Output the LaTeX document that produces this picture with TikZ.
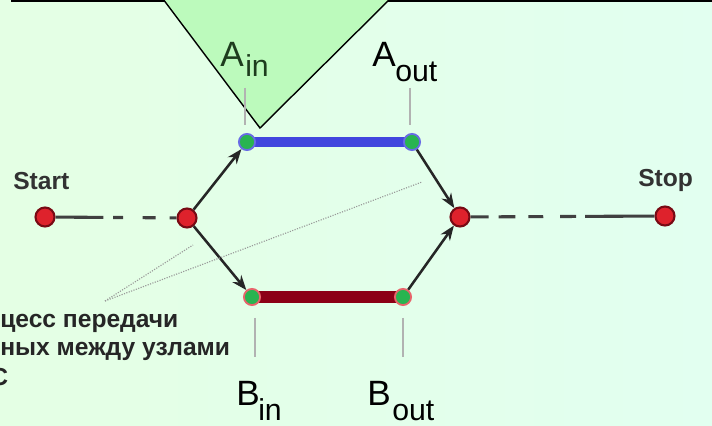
\documentclass[tikz,border=0pt]{standalone}
\usepackage{fontspec}
\setmainfont{Liberation Sans}
\usetikzlibrary{arrows.meta}
\definecolor{BgLeft}   {RGB}{228,255,228}
\definecolor{BgRight}  {RGB}{226,255,240}
\definecolor{Bubble}   {RGB}{188,250,188}
\definecolor{DotRed}   {RGB}{222,34,44}
\definecolor{DotEdge}  {RGB}{120,10,20}
\definecolor{PortGreen}{RGB}{40,180,80}
\definecolor{LineBlue} {RGB}{66,70,222}
\definecolor{LineRed}  {RGB}{140,0,22}
\definecolor{TextGrey} {RGB}{50,50,50}
\definecolor{TextDkGrn}{RGB}{30,60,30}

\begin{document}
\begin{tikzpicture}[
  x=0.025cm, y=-0.025cm,
  endpt/.style={circle, fill=DotRed, draw=DotEdge, line width=1.5pt,
                inner sep=0pt, minimum size=13.5pt},
  port/.style={circle, fill=PortGreen, line width=1.3pt,
               inner sep=0pt, minimum size=11.5pt},
  arr/.style={-{Stealth[length=10.5pt, width=8pt]}, line width=1.8pt, black!85},
  wire/.style={line width=2.2pt, black!75},
  vtick/.style={line width=1pt, black!30},
  callout/.style={line width=0.8pt, black!40, densely dotted},
  chanlbl/.style={inner sep=0pt, anchor=base west, font=\fontsize{25}{25}\selectfont},
  chansub/.style={inner sep=0pt, anchor=base west, font=\fontsize{21.5}{21.5}\selectfont},
  endlbl/.style={inner sep=0pt, anchor=base west, text=TextGrey,
                 font=\bfseries\fontsize{17.5}{20}\selectfont},
  notetext/.style={inner sep=0pt, anchor=base west, text=black!85,
                   font=\bfseries\fontsize{17.5}{20}\selectfont}
]
  \useasboundingbox (0,0) rectangle (712,426);
  \clip (0,0) rectangle (712,426);
  \shade[left color=BgLeft, right color=BgRight] (0,0) rectangle (712,426);

  % frame line and bubble pointer
  \draw[line width=1.5pt] (11,1) -- (712,1);
  \fill[Bubble] (163,-1) -- (260,128) -- (390,-1) -- cycle;
  \draw[line width=1pt] (163,-1) -- (260,128) -- (390,-1);

  % nodes
  \node[endpt] (start) at (45,217) {};
  \node[endpt] (fork)  at (187,218) {};
  \node[endpt] (join)  at (460,217) {};
  \node[endpt] (stop)  at (665,216) {};
  \coordinate (ainc)  at (247,142);
  \coordinate (aoutc) at (412,142);
  \coordinate (binc)  at (252,297);
  \coordinate (boutc) at (403,297);

  % channels
  \draw[LineBlue, line width=7pt] (ainc) -- (aoutc);
  \draw[LineRed, line width=8.5pt] (binc) -- (boutc);
  \node[port, draw=LineBlue!80] (ain)  at (ainc)  {};
  \node[port, draw=LineBlue!80] (aout) at (aoutc) {};
  \node[port, draw=DotRed!70]   (bin)  at (binc)  {};
  \node[port, draw=DotRed!70]   (bout) at (boutc) {};

  % links
  \draw[wire, dash pattern=on 34pt off 7pt on 7pt off 14pt on 9.2pt off 9.9pt on 9.2pt off 10pt]
    (start) -- (fork);
  \draw[wire, dash pattern=on 12.8pt off 7.1pt on 12pt off 9.2pt on 10.6pt off 12pt on 11.3pt off 6.4pt on 60pt off 5pt]
    (join) -- (stop);
  \draw[arr] (fork) -- (ain);
  \draw[arr] (fork) -- (bin);
  \draw[arr] (aout) -- (join);
  \draw[arr] (bout) -- (join);

  % ticks
  \draw[vtick] (245,88) -- (245,125);
  \draw[vtick] (410,88) -- (410,125);
  \draw[vtick] (255,318) -- (255,357);
  \draw[vtick] (403,318) -- (403,357);

  % labels
  \node[chanlbl, text=TextDkGrn] (lain) at (220,67) {A};
  \node[chansub, text=TextDkGrn] (lainsub) at (245,77) {in};
  \node[chanlbl] (laout) at (372,67) {A};
  \node[chansub] (laoutsub) at (395,82) {out};
  \node[chanlbl] (lbin) at (236,406) {B};
  \node[chansub] (lbinsub) at (258,420) {in};
  \node[chanlbl] (lbout) at (367,406) {B};
  \node[chansub] (lboutsub) at (392,420) {out};
  \node[endlbl] (lstart) at (13,190) {Start};
  \node[endlbl] (lstop) at (638,187) {Stop};

  % note with callout
  \node[notetext] (note1) at (0,328) {цесс передачи};
  \node[notetext] (note2) at (0,356) {ных между узлами};
  \node[notetext] (note3) at (-10,386) {С};
  \coordinate (cpt) at (105,301);
  \coordinate (c1) at (193,245);
  \coordinate (c2) at (422,182);
  \draw[callout] (cpt) -- (c1);
  \draw[callout] (cpt) -- (c2);
\end{tikzpicture}
\end{document}
